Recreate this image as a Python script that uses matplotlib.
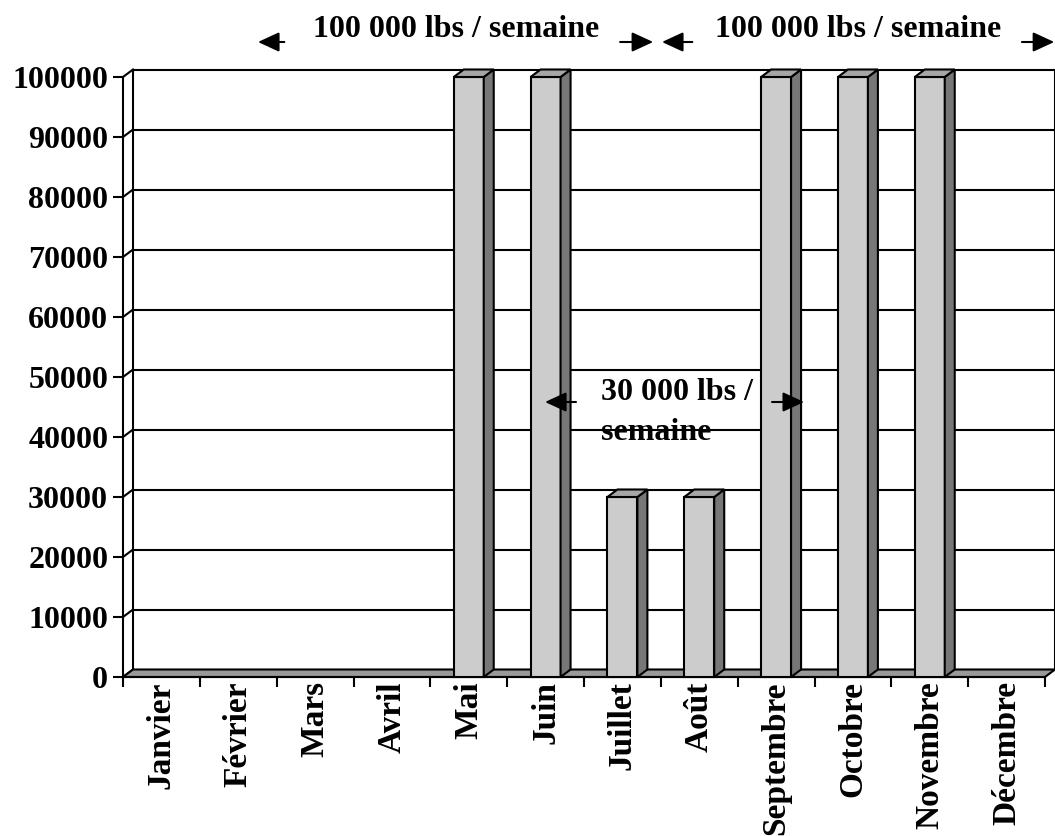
import numpy as np
import matplotlib
matplotlib.use("Agg")
import matplotlib.pyplot as plt
from matplotlib.patches import Polygon

# data
mois = ["Janvier", "Février", "Mars", "Avril", "Mai", "Juin", "Juillet",
        "Août", "Septembre", "Octobre", "Novembre", "Décembre"]
lbs = [0, 0, 0, 0, 100000, 100000, 30000, 30000, 100000, 100000, 100000, 0]
yticks = list(range(0, 100001, 10000))

plt.rcParams["font.family"] = ["Liberation Serif", "DejaVu Serif"]
plt.rcParams["font.weight"] = "bold"
FS = 23

fig = plt.figure(figsize=(10.55, 8.36), dpi=100)
# front plane of the 3D box
ax = fig.add_axes([123 / 1055, 159 / 836, 922 / 1055, 600 / 836])
n = len(mois)
ax.set_xlim(0, n)
ax.set_ylim(0, 100000)

# depth of the 3D effect in data units (about 10 px right, 7.5 px up)
ddx = 10 / (922 / n)
ddy = 7.5 / (600 / 100000)

LW = 1.5
ax.spines["top"].set_visible(False)
ax.spines["right"].set_visible(False)
ax.spines["left"].set_linewidth(LW)
ax.spines["bottom"].set_linewidth(LW)
ax.set_yticks(yticks)
ax.set_yticklabels([str(v) for v in yticks], fontsize=FS, fontweight="bold")
ax.tick_params(axis="y", length=7.2, width=LW, pad=3.5)
ax.set_xticks(range(n + 1))
ax.set_xticklabels([])
ax.set_xticks(np.arange(n) + 0.5, minor=True)
ax.set_xticklabels(mois, minor=True, rotation=90, fontsize=24, fontweight="bold")
ax.tick_params(axis="x", which="major", length=7.2, width=LW)
ax.tick_params(axis="x", which="minor", length=0, pad=3)

# back wall grid lines and side edges
for v in yticks:
    ax.plot([ddx, n + ddx], [v + ddy, v + ddy], color="black", lw=LW,
            clip_on=False, zorder=1)
    ax.plot([0, ddx], [v, v + ddy], color="black", lw=LW, clip_on=False, zorder=1)
ax.plot([ddx, ddx], [ddy, 100000 + ddy], color="black", lw=LW, clip_on=False, zorder=1)
ax.plot([n + ddx, n + ddx], [ddy, 100000 + ddy], color="black", lw=LW,
        clip_on=False, zorder=1)

# floor
floor = Polygon([(0, 0), (n, 0), (n + ddx, ddy), (ddx, ddy)], closed=True,
                facecolor="#999999", edgecolor="black", lw=LW, clip_on=False, zorder=2)
ax.add_patch(floor)

# 3D bars
w = 0.195
for i, v in enumerate(lbs):
    if v <= 0:
        continue
    c = i + 0.5
    front = Polygon([(c - w, 0), (c + w, 0), (c + w, v), (c - w, v)],
                    facecolor="#cccccc", edgecolor="black", lw=LW, clip_on=False, zorder=3)
    side = Polygon([(c + w, 0), (c + w + ddx, ddy), (c + w + ddx, v + ddy), (c + w, v)],
                   facecolor="#777777", edgecolor="black", lw=LW, clip_on=False, zorder=3)
    top = Polygon([(c - w, v), (c + w, v), (c + w + ddx, v + ddy), (c - w + ddx, v + ddy)],
                  facecolor="#a6a6a6", edgecolor="black", lw=LW, clip_on=False, zorder=3)
    for p in (front, side, top):
        ax.add_patch(p)


def fleche(x0, x1, y):
    ax.annotate("", xy=(x1, y), xytext=(x0, y), xycoords="data",
                annotation_clip=False, zorder=6,
                arrowprops=dict(arrowstyle="-|>,head_length=0.65,head_width=0.3",
                                mutation_scale=20, color="black", lw=1.5,
                                shrinkA=0, shrinkB=0))


# annotations
y_haut = 105833
ax.text(4.334, 106667, "100 000 lbs / semaine", ha="center", va="baseline",
        fontsize=FS, fontweight="bold", zorder=6)
ax.text(9.567, 106667, "100 000 lbs / semaine", ha="center", va="baseline",
        fontsize=FS, fontweight="bold", zorder=6)
fleche(2.10, 1.757, y_haut)
fleche(6.47, 6.90, y_haut)
fleche(7.41, 7.015, y_haut)
fleche(11.70, 12.12, y_haut)

ax.text(6.222, 46167, "30 000 lbs /", ha="left", va="baseline",
        fontsize=FS, fontweight="bold", zorder=6)
ax.text(6.222, 39500, "semaine", ha="left", va="baseline",
        fontsize=FS, fontweight="bold", zorder=6)
fleche(5.896, 5.493, 45833)
fleche(8.447, 8.864, 45833)

fig.savefig("out.png", dpi=100)
